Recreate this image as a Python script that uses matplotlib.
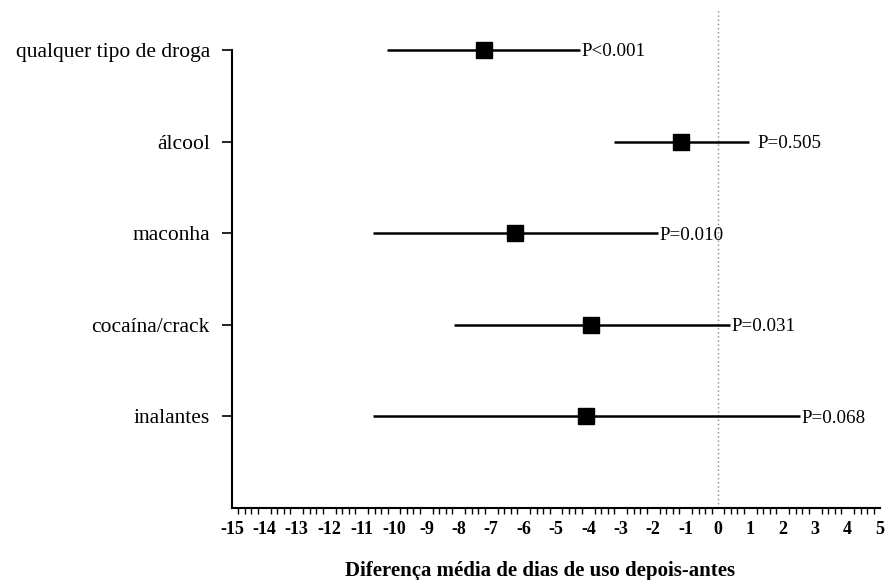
import matplotlib
matplotlib.use("Agg")
import matplotlib.pyplot as plt
import numpy as np
from matplotlib.ticker import FixedLocator

categories = ["qualquer tipo de droga", "álcool", "maconha", "cocaína/crack", "inalantes"]
means = [-7.22, -1.14, -6.27, -3.92, -4.07]
lower = [-10.22, -3.21, -10.65, -8.15, -10.65]
upper = [-4.26, 0.96, -1.85, 0.37, 2.53]
pvalues = ["P<0.001", "P=0.505", "P=0.010", "P=0.031", "P=0.068"]
xticks = list(range(-15, 6))

plt.rcParams['font.family'] = ['Liberation Serif', 'DejaVu Serif']

fig = plt.figure(figsize=(8.9, 5.8), dpi=100)
ax = fig.add_axes([232/890, 1-508/580, 648/890, 458/580])

n = len(categories)
ypos = np.arange(n, 0, -1)

ax.axvline(0, ymin=0, ymax=1 + 40/458, color='#888888', lw=1.0, ls=(0, (1, 2)), clip_on=False, zorder=1)

label_pad = [0.05, 0.25, 0.05, 0.05, 0.05]
for i in range(n):
    ax.plot([lower[i], upper[i]], [ypos[i], ypos[i]], color='black', lw=1.8, clip_on=False, zorder=2,
            solid_capstyle='butt')
    ax.plot(means[i], ypos[i], marker='s', ms=11.5, color='black', clip_on=False, zorder=3)
    ax.text(upper[i] + label_pad[i], ypos[i], pvalues[i], va='center_baseline', ha='left', fontsize=13.7)

ax.set_xlim(-15, 5)
ax.set_ylim(0, n)
ax.set_yticks(ypos)
ax.set_yticklabels(categories, fontsize=15.5)
ax.tick_params(axis='y', length=7, width=1.2, pad=9, direction='out')

ax.set_xticks(xticks)
ax.set_xticklabels([str(t) for t in xticks], fontsize=13, fontweight='bold')
minor = [round(v, 1) for v in np.arange(-15, 5.001, 0.2) if abs(v - round(v)) > 1e-6]
ax.xaxis.set_minor_locator(FixedLocator(minor))
ax.tick_params(axis='x', which='major', length=0, pad=9)
ax.tick_params(axis='x', which='minor', length=4, width=1.0, direction='out')

for s in ['top', 'right']:
    ax.spines[s].set_visible(False)
ax.spines['left'].set_linewidth(1.5)
ax.spines['bottom'].set_linewidth(1.5)

ax.set_xlabel("Diferença média de dias de uso depois-antes", fontsize=15, fontweight='bold')
ax.xaxis.set_label_coords(0.475, -0.115)

fig.savefig("out.png", dpi=100)
